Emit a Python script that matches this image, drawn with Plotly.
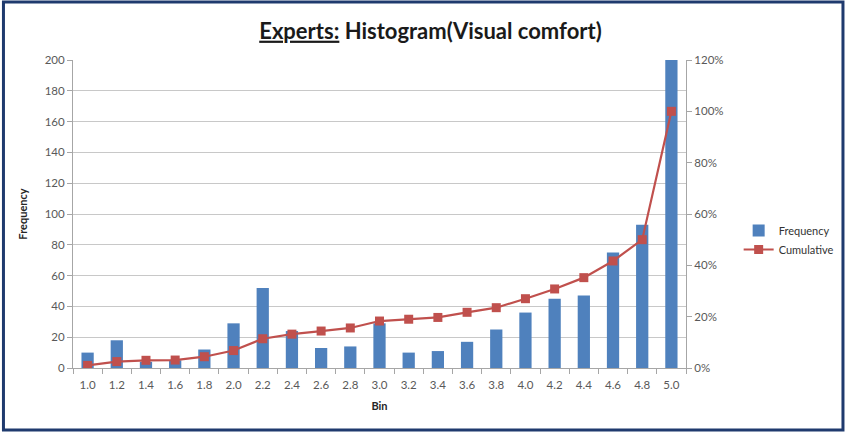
import plotly.graph_objects as go

# Histogram data: visual comfort ratings from experts
bins = ["1.0", "1.2", "1.4", "1.6", "1.8", "2.0", "2.2", "2.4", "2.6", "2.8", "3.0",
        "3.2", "3.4", "3.6", "3.8", "4.0", "4.2", "4.4", "4.6", "4.8", "5.0"]
frequency = [10, 18, 4, 5, 12, 29, 52, 24, 13, 14, 29,
             10, 11, 17, 25, 36, 45, 47, 75, 93, 560]
cumulative = [0.01, 0.025, 0.03, 0.031, 0.044, 0.068, 0.114, 0.132, 0.144, 0.156, 0.183,
              0.19, 0.197, 0.217, 0.235, 0.27, 0.308, 0.352, 0.417, 0.50, 1.00]
left_ticks = list(range(0, 201, 20))
right_ticks = [0, 0.2, 0.4, 0.6, 0.8, 1.0, 1.2]

W, H = 851, 433
L, R, T, B = 73, 161, 60, 65
PW, PH = W - L - R, H - T - B

def px_x(px):
    return (px - L) / PW

def px_y(py):
    return (H - B - py) / PH

font = "Lato, Open Sans, sans-serif"
grid = "#c8c8c8"
tick_col = "#595959"

fig = go.Figure()
fig.add_trace(go.Bar(
    x=bins, y=frequency, name="Frequency",
    marker=dict(color="#4F81BD", line=dict(width=0)),
))
fig.add_trace(go.Scatter(
    x=bins, y=cumulative, name="Cumulative", yaxis="y2",
    mode="lines+markers",
    line=dict(color="#C0504D", width=2.2),
    marker=dict(symbol="square", size=9, color="#C0504D"),
))

fig.update_layout(
    width=W, height=H,
    margin=dict(l=L, r=R, t=T, b=B),
    paper_bgcolor="white", plot_bgcolor="white",
    font=dict(family=font, color=tick_col, size=11),
    bargap=0.58,
    showlegend=True,
    title=dict(
        text="<u>Experts:</u> Histogram(Visual comfort)",
        x=(L + PW / 2 + 49) / W, xanchor="center",
        y=1 - 31 / H, yanchor="middle",
        font=dict(family=font, size=22, color="#1a1a1a", weight="bold"),
    ),
    legend=dict(
        x=px_x(743), y=px_y(216), xanchor="left", yanchor="top",
        font=dict(family=font, size=11, color="#333333"),
        bgcolor="rgba(0,0,0,0)", tracegroupgap=4, itemwidth=30,
    ),
    xaxis=dict(
        type="category", range=[-0.5, len(bins) - 0.5],
        showline=True, linecolor="#a6a6a6", linewidth=1,
        ticks="outside", ticklen=5, tickcolor="#a6a6a6",
        tickson="boundaries", ticklabelstandoff=6,
        tickfont=dict(size=11.5, color=tick_col),
        title=dict(text="<b>Bin</b>", font=dict(size=11, color="#262626"), standoff=12),
        showgrid=False,
    ),
    yaxis=dict(
        range=[0, 200], tickvals=left_ticks,
        showgrid=True, gridcolor=grid, gridwidth=1,
        showline=True, linecolor="#a6a6a6", linewidth=1,
        ticks="outside", ticklen=5, tickcolor="#a6a6a6",
        tickfont=dict(size=11.5, color=tick_col),
        title=dict(text="<b>Frequency</b>", font=dict(size=11, color="#262626"), standoff=14),
        zeroline=False,
    ),
    yaxis2=dict(
        overlaying="y", side="right",
        range=[0, 1.2], tickvals=right_ticks, tickformat=".0%",
        showgrid=False,
        showline=True, linecolor="#a6a6a6", linewidth=1,
        ticks="outside", ticklen=5, tickcolor="#a6a6a6",
        tickfont=dict(size=11.5, color=tick_col),
        zeroline=False,
    ),
    shapes=[dict(
        type="rect", xref="paper", yref="paper",
        x0=px_x(3), x1=px_x(848), y0=px_y(2), y1=px_y(430),
        line=dict(color="#1F3A6E", width=3), fillcolor="rgba(0,0,0,0)",
        layer="above",
    )],
)

fig.write_html("out.html")
